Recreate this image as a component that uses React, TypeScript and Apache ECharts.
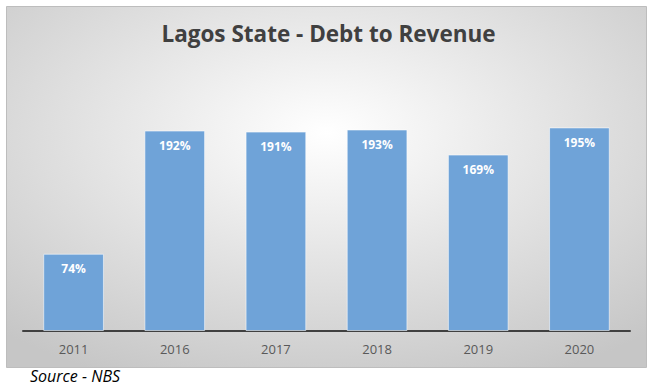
import React, { useEffect, useRef } from "react";
import * as echarts from "echarts";

const categories = ["2011", "2016", "2017", "2018", "2019", "2020"];
const debtToRevenue = [74, 192, 191, 193, 169, 195];
const titleText = "Lagos State - Debt to Revenue";
const sourceText = "Source - NBS";

export default function App() {
  const ref = useRef<HTMLDivElement>(null);
  useEffect(() => {
    if (!ref.current) return;
    const chart = echarts.init(ref.current, undefined, { renderer: "svg" });
    chart.setOption({
      animation: false,
      title: {
        text: titleText,
        left: "center",
        top: 17,
        textStyle: {
          fontFamily: "Open Sans",
          fontWeight: "bold",
          fontSize: 22.5,
          color: "#404040",
        },
      },
      graphic: [
        {
          type: "rect",
          z: -10,
          silent: true,
          shape: { x: 6.5, y: 6.5, width: 640, height: 361 },
          style: {
            fill: new echarts.graphic.RadialGradient(0.5, 0.35, 0.75, [
              { offset: 0, color: "#ffffff" },
              { offset: 1, color: "#c6c6c6" },
            ]),
            stroke: "#bdbdbd",
            lineWidth: 1,
          },
        },
        {
          type: "text",
          left: 30,
          top: 368,
          style: {
            text: sourceText,
            font: "italic 16px 'Open Sans'",
            fill: "#000000",
          },
        },
      ],
      grid: { left: 23, right: 27, top: 70, bottom: 56, containLabel: false },
      xAxis: {
        type: "category",
        data: categories,
        axisLine: { show: true, lineStyle: { color: "#404040", width: 2 } },
        axisTick: { show: false },
        axisLabel: {
          color: "#595959",
          fontSize: 13,
          fontFamily: "Open Sans",
          margin: 11,
        },
      },
      yAxis: {
        type: "value",
        min: 0,
        max: 250,
        show: false,
        splitLine: { show: false },
      },
      series: [
        {
          type: "bar",
          data: debtToRevenue,
          barCategoryGap: "40%",
          itemStyle: {
            color: "#6fa3d8",
            borderColor: "rgba(255,255,255,0.55)",
            borderWidth: 1,
          },
          label: {
            show: true,
            position: "insideTop",
            distance: 9,
            color: "#ffffff",
            fontWeight: "bold",
            fontSize: 12,
            fontFamily: "Open Sans",
            formatter: (p: any) => p.value + "%",
          },
        },
      ],
    });
    return () => chart.dispose();
  }, []);
  return (
    <div
      ref={ref}
      style={{ position: "absolute", left: 0, top: 0, width: 657, height: 387 }}
    />
  );
}
